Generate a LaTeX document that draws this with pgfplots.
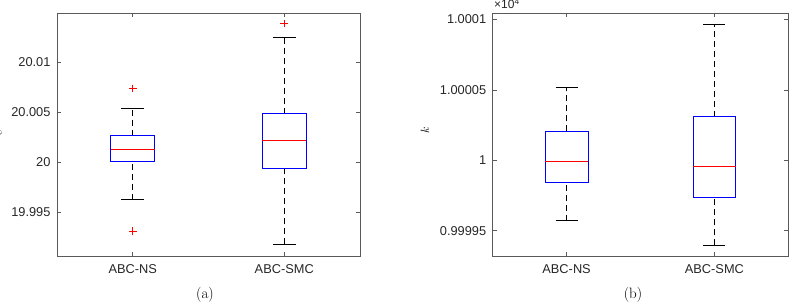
\documentclass[border=0pt]{standalone}
\usepackage{pgfplots}
\pgfplotsset{compat=1.18}
\usepgfplotslibrary{statistics}
\usepackage{fontspec}
\newfontfamily\arial{Liberation Sans}
\definecolor{axgray}{RGB}{90,90,90}
\definecolor{tickgray}{RGB}{38,38,38}
\begin{document}
\begin{tikzpicture}[x=1bp,y=1bp]
\pgfplotsset{
  mybox/.style={
    scale only axis,
    height=243bp,
    xmin=0.5, xmax=2.5,
    xtick={1,2}, xticklabels={ABC-NS,ABC-SMC},
    tick align=inside,
    major tick length=4bp,
    axis line style={draw=axgray, line width=0.6bp},
    tick style={draw=axgray, line width=0.6bp},
    tick label style={font=\arial\fontsize{12.8bp}{15bp}\selectfont, text=tickgray},
    /pgf/number format/assume math mode=true,
    xticklabel style={yshift=-5bp},
    yticklabel style={xshift=-3bp},
    label style={font=\fontsize{12bp}{14bp}\selectfont},
    boxplot/draw direction=y,
    boxplot/box extend=0.29,
    boxplot/whisker extend=0.15,
    boxplot/every box/.style={draw=blue, line width=0.9bp},
    boxplot/every median/.style={draw=red, line width=0.9bp},
    boxplot/every whisker/.style={draw=black, line width=0.8bp},
    boxplot/draw/lower whisker/.code={%
      \draw[/pgfplots/boxplot/every whisker/.try, dash pattern=on 6bp off 4bp]
        (boxplot box cs:\pgfplotsboxplotvalue{lower whisker},0.5) --
        (boxplot box cs:\pgfplotsboxplotvalue{lower quartile},0.5);
      \draw[/pgfplots/boxplot/every whisker/.try]
        (boxplot whisker cs:\pgfplotsboxplotvalue{lower whisker},0) --
        (boxplot whisker cs:\pgfplotsboxplotvalue{lower whisker},1);
    },
    boxplot/draw/upper whisker/.code={%
      \draw[/pgfplots/boxplot/every whisker/.try, dash pattern=on 6bp off 4bp]
        (boxplot box cs:\pgfplotsboxplotvalue{upper quartile},0.5) --
        (boxplot box cs:\pgfplotsboxplotvalue{upper whisker},0.5);
      \draw[/pgfplots/boxplot/every whisker/.try]
        (boxplot whisker cs:\pgfplotsboxplotvalue{upper whisker},0) --
        (boxplot whisker cs:\pgfplotsboxplotvalue{upper whisker},1);
    },
  },
  mybp/.style={black, mark=+, mark size=3.8bp, mark options={draw=red, solid, line width=0.8bp}},
}

% ---------------- panel (a) ----------------
% values stored as (c - 20) * 1000, i.e. in units of 0.001 above 20
\begin{axis}[mybox, name=a, at={(0,0)}, anchor=south west,
  width=303bp,
  ymin=-9.4, ymax=14.9,
  ytick={-5,0,5,10},
  yticklabels={19.995,20,20.005,20.01},
  ylabel={$c$},
  ylabel style={at={(axis description cs:-0.1914,0.506)}, anchor=center},
]
\addplot[mybp, boxplot prepared={draw position=1,
  lower whisker=-3.77, lower quartile=0.07, median=1.23,
  upper quartile=2.63, upper whisker=5.33}]
  table[row sep=\\, y index=0] {7.33\\ -6.9\\};
\addplot[mybp, boxplot prepared={draw position=2,
  lower whisker=-8.23, lower quartile=-0.67, median=2.13,
  upper quartile=4.83, upper whisker=12.46}]
  table[row sep=\\, y index=0] {13.83\\};
\end{axis}

% ---------------- panel (b) ----------------
% values stored as (k/10^4 - 1) * 10^5
\begin{axis}[mybox, name=b, at={(435.7bp,0)}, anchor=south west,
  width=295.6bp,
  ymin=-6.8, ymax=10.46,
  ytick={-5,0,5,10},
  yticklabels={0.99995,1,1.00005,1.0001},
  ylabel={$k$},
  ylabel style={at={(axis description cs:-0.229,0.519)}, anchor=center},
]
\addplot[mybp, boxplot prepared={draw position=1,
  lower whisker=-4.29, lower quartile=-1.59, median=-0.07,
  upper quartile=2.06, upper whisker=5.19}]
  coordinates {};
\addplot[mybp, boxplot prepared={draw position=2,
  lower whisker=-6.02, lower quartile=-2.61, median=-0.43,
  upper quartile=3.08, upper whisker=9.67}]
  coordinates {};
\end{axis}

\node[anchor=base west, inner sep=0, font=\arial\fontsize{12bp}{14bp}\selectfont, text=tickgray]
  at (437bp,247bp) {×10\textsuperscript{4}};
\node[anchor=base, inner sep=0, font=\fontsize{15bp}{18bp}\selectfont] at (148bp,-42bp) {(a)};
\node[anchor=base, inner sep=0, font=\fontsize{15bp}{18bp}\selectfont] at (576bp,-42bp) {(b)};

\pgfresetboundingbox
\path[use as bounding box] (-57bp,-50bp) rectangle (738bp,256bp);
\end{tikzpicture}
\end{document}
